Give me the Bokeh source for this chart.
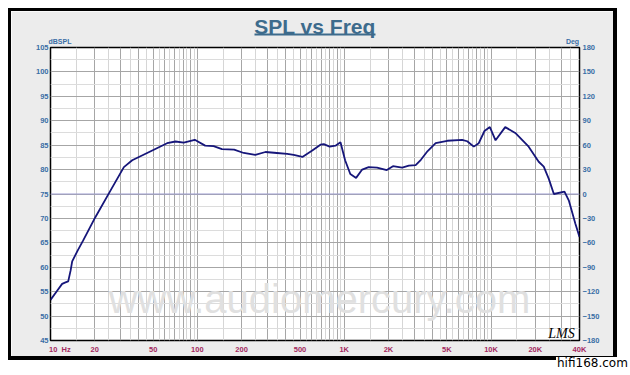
from bokeh.plotting import figure
from bokeh.models import (Range1d, LinearAxis, FixedTicker, Label, Span, Div, LinearScale)
from bokeh.layouts import column
from bokeh.embed import file_html
from bokeh.resources import INLINE

# ---- data ----
freq = [10, 11.1, 12.0, 12.65, 13.2, 13.7, 14.05, 15.3, 16.7, 20.2, 25.6, 31.6, 36.0, 45.5,
        62.2, 71, 80.8, 96, 113, 129, 147, 178, 207, 248, 291, 348, 409, 453, 519, 606,
        689, 726, 796, 872, 943, 1014, 1100, 1205, 1325, 1467, 1673, 1950, 2147, 2481,
        2755, 3065, 3326, 3699, 4193, 5035, 6353, 6880, 7624, 8245, 9017, 9810, 10725,
        12481, 14612, 18026, 21100, 22840, 24720, 26760, 31600, 33800, 37500, 40000]
spl = [53.3, 55.2, 56.6, 56.9, 57.1, 59.3, 61.2, 63.4, 65.5, 70.25, 75.7, 80.5, 81.9, 83.4,
       85.4, 85.75, 85.5, 86.1, 84.9, 84.8, 84.2, 84.1, 83.4, 83.0, 83.6, 83.4, 83.2, 83.0, 82.6, 83.9,
       85.1, 85.2, 84.7, 84.9, 85.6, 81.9, 79.1, 78.3, 80.0, 80.5, 80.4, 79.9, 80.7, 80.4,
       80.8, 80.9, 82.0, 83.8, 85.4, 85.9, 86.1, 85.8, 84.7, 85.4, 87.9, 88.7, 86.0,
       88.7, 87.5, 84.7, 81.6, 80.6, 78.1, 75.0, 75.5, 73.7, 68.9, 66.2]

NB = "\u00a0"
x_ticks = [10, 20, 50, 100, 200, 500, 1000, 2000, 5000, 10000, 20000, 40000]
x_tick_labels = [NB * 9 + "10" + NB + NB + "Hz", "20", "50", "100", "200", "500",
                 "1K", "2K", "5K", "10K", "20K", "40K"]
db_ticks = [45, 50, 55, 60, 65, 70, 75, 80, 85, 90, 95, 100, 105]
deg_ticks = [-180, -150, -120, -90, -60, -30, 0, 30, 60, 90, 120, 150, 180]

title_text = "SPL vs Freq"
unit_labels = ["dBSPL", "Deg"]
watermark = "www.audiomercury.com"
signature = "LMS"
site = "hifi168.com"

# grid positions (per decade multiples)
grid_major = [m * d for d in [10, 100, 1000, 10000] for m in range(1, 10) if m * d <= 40000]
grid_minor = [m * d for d in [10, 100, 1000, 10000]
              for m in [1.5, 2.5, 3.5, 4.5, 5.5, 6.5, 7.5, 8.5, 9.5] if m * d <= 40000]

TICK_BLUE = "#3a6ea5"
TICK_RED = "#a3285e"
TITLE_COL = "#3d6b8c"

p = figure(width=609, height=352, x_axis_type="log",
           x_range=Range1d(10, 40000), y_range=Range1d(45, 105),
           output_backend="svg", toolbar_location=None,
           min_border_left=39, min_border_right=41, min_border_top=36, min_border_bottom=23,
           styles={"margin": "8px 0 0 8px", "border": "3px solid black",
                   "border-right-width": "4px", "border-bottom-width": "4px"})
p.extra_y_ranges = {"deg": Range1d(-180, 180)}
p.extra_x_ranges = {"lbl": Range1d(0, 529)}
p.extra_x_scales = {"lbl": LinearScale()}
p.border_fill_color = "#ECECEC"
p.background_fill_color = "white"
p.outline_line_color = "black"
p.outline_line_width = 1.5

# title
p.title.text = title_text
p.title.align = "center"
p.title.text_font = "Liberation Sans"
p.title.text_font_style = "bold"
p.title.text_font_size = "21px"
p.title.text_color = TITLE_COL
p.title.standoff = -7

# axes
xa = p.xaxis[0]
xa.ticker = FixedTicker(ticks=x_ticks)
xa.major_label_overrides = {t: l for t, l in zip(x_ticks, x_tick_labels)}
ya = p.yaxis[0]
ya.ticker = FixedTicker(ticks=db_ticks)
ra = LinearAxis(y_range_name="deg", ticker=FixedTicker(ticks=deg_ticks))
p.add_layout(ra, "right")

# unit labels above the frame (dBSPL at left, Deg at right)
unit_pos = [9.5, 522]
ua = LinearAxis(x_range_name="lbl", ticker=FixedTicker(ticks=unit_pos))
ua.major_label_overrides = {t: l for t, l in zip(unit_pos, unit_labels)}
p.add_layout(ua, "above")
# title underline
ul = LinearAxis(x_range_name="lbl", ticker=FixedTicker(ticks=[]), bounds=(204, 325))
ul.axis_line_color = TITLE_COL
ul.axis_line_width = 2
ul.major_tick_line_color = None
ul.minor_tick_line_color = None
ul.major_label_standoff = 0
p.add_layout(ul, "above")

for ax, col in [(xa, TICK_RED), (ya, TICK_BLUE), (ra, TICK_BLUE), (ua, TICK_BLUE)]:
    ax.axis_line_color = None
    ax.major_tick_in = 0
    ax.major_tick_out = 0
    ax.minor_tick_line_color = None
    ax.major_label_text_color = col
    ax.major_label_text_font = "Liberation Sans"
    ax.major_label_text_font_style = "bold"
    ax.major_label_text_font_size = "7.5px"
ua.major_label_text_font_size = "7px"
xa.major_label_standoff = 4
ya.major_label_standoff = 2
ra.major_label_standoff = 3
ua.major_label_standoff = 3

# grids
p.xgrid.ticker = FixedTicker(ticks=grid_major, minor_ticks=grid_minor)
p.xgrid.grid_line_color = "#a6a6a6"
p.xgrid.minor_grid_line_color = "#d6d6d6"
p.ygrid.ticker = FixedTicker(ticks=db_ticks, minor_ticks=[v + 2.5 for v in db_ticks[:-1]])
p.ygrid.grid_line_color = "#a6a6a6"
p.ygrid.minor_grid_line_color = "#dcdcdc"
p.add_layout(Span(location=0, dimension="width", y_range_name="deg",
                  line_color="#9c9cd0", line_width=1, level="underlay"))

# watermark
p.add_layout(Label(x=269, y=42, x_units="screen", y_units="screen", text=watermark,
                   text_align="center", text_baseline="alphabetic",
                   text_font="Liberation Sans", text_font_size="40px",
                   text_color="#e0e0e0", level="underlay"))

# curve
p.line(freq, spl, line_color="#16167a", line_width=1.8)

p.add_layout(Label(x=511, y=7, x_units="screen", y_units="screen", text=signature,
                   text_align="center", text_baseline="alphabetic",
                   text_font="Liberation Serif", text_font_style="italic",
                   text_font_size="14px", text_color="black"))

site_div = Div(text=site, styles={"margin-left": "556px", "margin-top": "-3px",
                                  "background-color": "white", "font-family": "DejaVu Sans",
                                  "font-size": "12px", "color": "black", "line-height": "12px",
                                  "padding": "0 1px", "z-index": "2"})

layout = column(p, site_div, spacing=0)
open("out.html", "w").write(file_html(layout, INLINE))
